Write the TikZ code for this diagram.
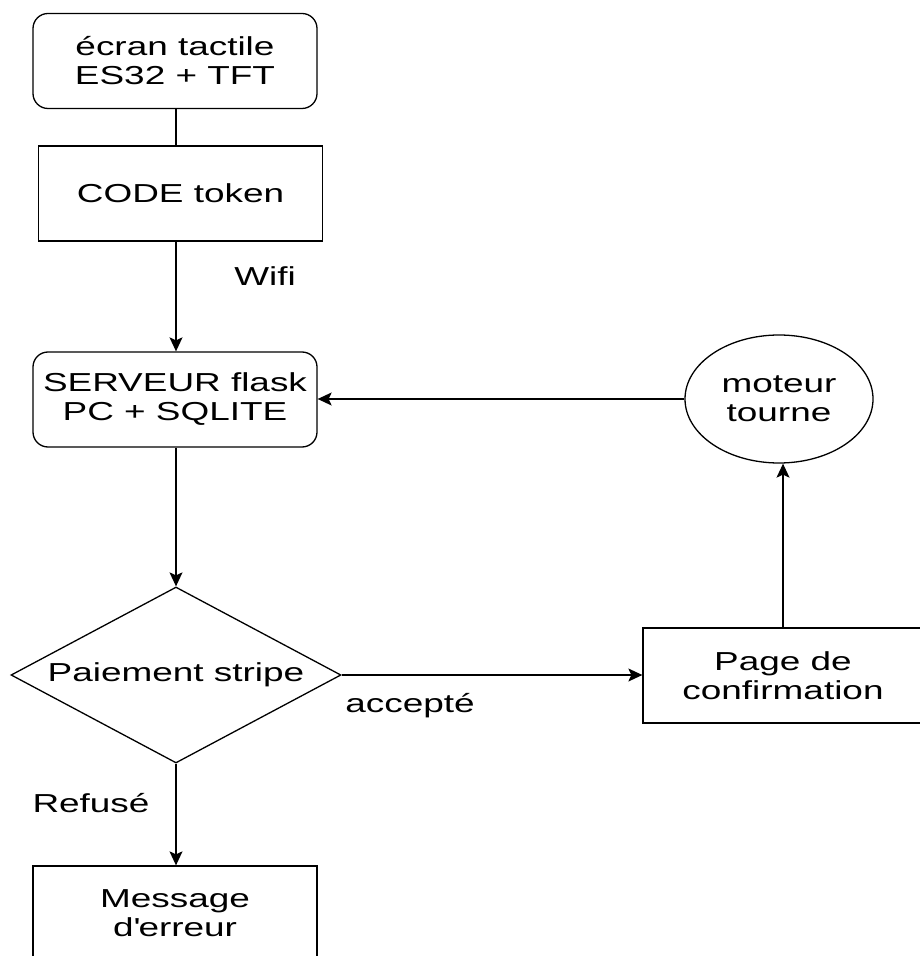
\documentclass[tikz,border=0pt]{standalone}
\usepackage{fontspec}
\setmainfont[FakeStretch=1.42]{Liberation Sans}
\usetikzlibrary{shapes.geometric,arrows.meta}
\begin{document}
\begin{tikzpicture}[x=0.5pt,y=-0.5pt,
  every node/.style={font=\fontsize{13}{14.5}\selectfont, align=center, inner sep=0pt, text=black},
  roundbox/.style={draw, line width=0.65pt, rounded corners=7.5pt, minimum width=142pt, minimum height=47.5pt},
  plainbox/.style={draw, line width=0.65pt, minimum width=142pt, minimum height=47.5pt},
  decision/.style={draw, shape=diamond, line width=0.65pt, minimum width=165pt, minimum height=88pt},
  oval/.style={draw, shape=ellipse, line width=0.65pt, minimum width=94pt, minimum height=64pt},
  conn/.style={line width=0.65pt},
  arr/.style={line width=0.65pt, -{Stealth[length=7pt,width=6.5pt,inset=1.5pt]}},
  lbl/.style={}
]
\useasboundingbox (0,0) rectangle (919,956);
\node[roundbox] (ecran) at (175,61) {écran tactile\\ES32 + TFT};
\node[plainbox] (code) at (180.5,193.5) {CODE token};
\node[roundbox] (server) at (175,399.5) {SERVEUR flask\\PC + SQLITE};
\node[decision] (pay) at (176,675) {\makebox[0pt]{Paiement stripe}};
\node[plainbox, minimum width=140pt] (page) at (783,675.5) {Page de\\confirmation};
\node[oval] (motor) at (779,399) {moteur\\tourne};
\node[plainbox] (msg) at (175,913.5) {Message\\d\textquotesingle erreur};

\node[lbl] (wifi) at (265,276) {Wifi};
\node[lbl] (acc) at (410,706) {accepté};
\node[lbl] (ref) at (91,803) {Refusé};

\coordinate (c1) at (176,0);
\draw[conn] (ecran.south -| c1) -- (code.north -| c1);
\draw[arr] (code.south -| c1) -- (server.north -| c1);
\draw[arr] (server.south -| c1) -- (pay.north);
\draw[arr] (pay.east) -- (page.west |- pay.east);
\draw[arr] (page.north) -- (page.north |- motor.south);
\draw[arr] (motor.west) -- (server.east |- motor.west);
\draw[arr] (pay.south) -- (msg.north -| pay.south);
\end{tikzpicture}
\end{document}
